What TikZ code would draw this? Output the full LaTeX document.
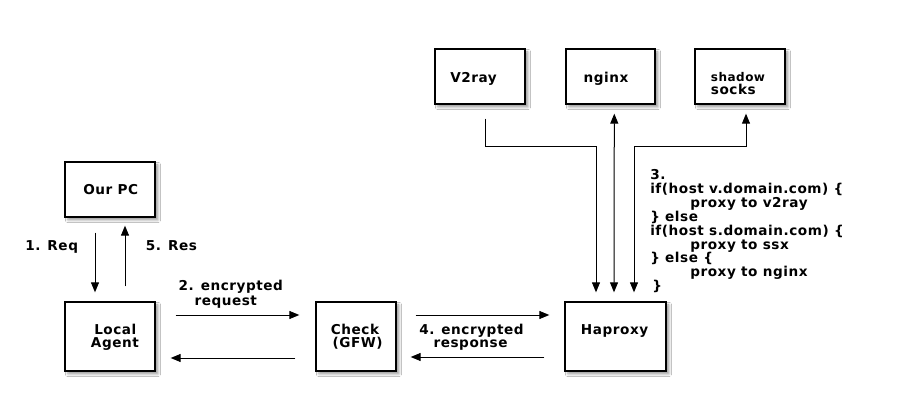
\documentclass[tikz,border=0pt]{standalone}
\usepackage{fontspec}
\setmainfont{DejaVu Sans}[LetterSpace=4]
\usetikzlibrary{arrows.meta,shadows.blur,calc}
\tikzset{
  box/.style={draw, line width=1pt, fill=white, inner sep=0pt,
    blur shadow={shadow xshift=2.2pt, shadow yshift=-2.2pt, shadow blur radius=2pt, shadow opacity=40}},
  lbl/.style={anchor=base west, inner sep=0pt, font=\bfseries\fontsize{10.2pt}{11pt}\selectfont},
  small/.style={lbl, font=\bfseries\fontsize{9pt}{10pt}\selectfont},
  arr/.style={line width=0.75pt, -{Triangle[length=7.5pt,width=6pt]}},
  darr/.style={line width=0.75pt, {Triangle[length=7.5pt,width=6pt]}-{Triangle[length=7.5pt,width=6pt]}},
}
\begin{document}
\begin{tikzpicture}[x=0.75pt,y=-0.75pt]
\useasboundingbox (0,0) rectangle (900,406);
\fill[white] (0,0) rectangle (900,406);

% boxes
\node[box, minimum width=67.5pt, minimum height=41.25pt] (pc) at (110,189.5) {};
\node[box, minimum width=67.5pt, minimum height=51.75pt] (agent) at (110,336.5) {};
\node[box, minimum width=60pt, minimum height=51.75pt] (gfw) at (356,336.5) {};
\node[box, minimum width=75.75pt, minimum height=51.75pt] (hap) at (615.5,336.5) {};
\node[box, minimum width=67.5pt, minimum height=41.25pt] (v2) at (480,76.5) {};
\node[box, minimum width=66.75pt, minimum height=41.25pt] (ngx) at (610.5,76.5) {};
\node[box, minimum width=67.5pt, minimum height=41.25pt] (ss) at (740,76.5) {};

% box texts
\node[lbl] (tpc) at (83,194.3) {Our PC};
\node[lbl] (tlocal) at (94,334) {Local};
\node[lbl] (tagent) at (90.7,347.7) {Agent};
\node[lbl] (tcheck) at (330.7,334) {Check};
\node[lbl] (tgfw) at (332.3,347.7) {(GFW)};
\node[lbl] (thap) at (580.7,334) {Haproxy};
\node[lbl] (tv2) at (450,82.7) {V2ray};
\node[lbl] (tngx) at (583.3,82.7) {nginx};
\node[small] (tshadow) at (710.7,82) {shadow};
\node[lbl] (tsocks) at (710.7,94.5) {socks};

% connector labels
\node[lbl] (lreq) at (25,250) {1. Req};
\node[lbl] (lres) at (145.7,250) {5. Res};
\node[lbl] (lenc1) at (178.3,291) {2. encrypted};
\node[lbl] (lenc2) at (194.3,305) {request};
\node[lbl] (lrsp1) at (419,334) {4. encrypted};
\node[lbl] (lrsp2) at (433.3,347.7) {response};

% code block
\node[lbl] (c0) at (650,180) {3.};
\node[lbl] (c1) at (650,193.8) {if(host v.domain.com) \{};
\node[lbl] (c2) at (690,207.6) {proxy to v2ray};
\node[lbl] (c3) at (650,221.4) {\} else};
\node[lbl] (c4) at (650,235.2) {if(host s.domain.com) \{};
\node[lbl] (c5) at (690,249) {proxy to ssx};
\node[lbl] (c6) at (650,262.8) {\} else \{};
\node[lbl] (c7) at (690,276.6) {proxy to nginx};
\node[lbl] (c8) at (652,290.4) {\}};

% vertical PC <-> agent
\draw[arr] ($(pc.south)+(-15,15)$) -- ($(agent.north)+(-15,-9)$);
\draw[arr] ($(agent.north)+(15,-15)$) -- ($(pc.south)+(15,8)$);

% agent <-> gfw
\draw[arr] ($(agent.east)+(20,-21.5)$) -- ($(gfw.west)+(-16,-21.5)$);
\draw[arr] ($(gfw.west)+(-20,21.5)$) -- ($(agent.east)+(15,21.5)$);

% gfw <-> haproxy
\draw[arr] ($(gfw.east)+(19,-21.5)$) -- ($(hap.west)+(-15,-21.5)$);
\draw[arr] ($(hap.west)+(-20,20.5)$) -- ($(gfw.east)+(14,20.5)$);

% haproxy <-> backends
\coordinate (v2s) at ($(v2.south)+(5,14)$);
\coordinate (h1) at ($(hap.north)+(-19.5,-9)$);
\draw[arr] (v2s) -- (v2s |- 0,147) -- (h1 |- 0,147) -- (h1);
\draw[darr] ($(hap.north)+(-1.5,-9)$) -- ($(ngx.south)+(3.8,9)$);
\coordinate (h3) at ($(hap.north)+(18.5,-9)$);
\coordinate (sss) at ($(ss.south)+(6,9)$);
\draw[darr] (h3) -- (h3 |- 0,147) -- (sss |- 0,147) -- (sss);
\end{tikzpicture}
\end{document}
